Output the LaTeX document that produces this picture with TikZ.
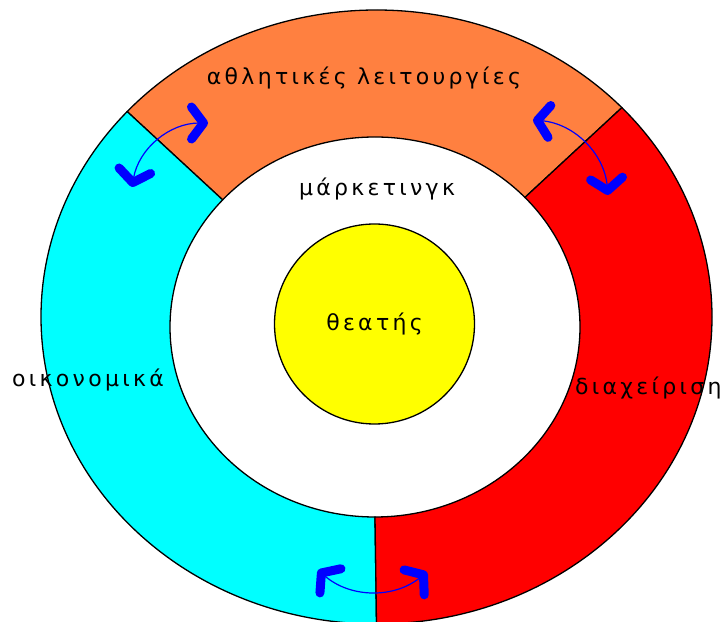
\documentclass[tikz,border=0pt]{standalone}
\usepackage{fontspec}
\newfontfamily\greekfont[LetterSpace=15]{DejaVu Sans}
\usetikzlibrary{arrows.meta,calc}
\definecolor{sportorange}{RGB}{255,128,64}
\definecolor{financecyan}{RGB}{0,255,255}
\definecolor{managered}{RGB}{255,0,0}
\definecolor{fanyellow}{RGB}{255,255,0}
\definecolor{linkblue}{RGB}{0,0,255}

\begin{document}
\begin{tikzpicture}[
    x=1pt, y=1pt,
    font=\greekfont\fontsize{22}{26}\selectfont,
    >={Straight Barb[length=12pt, width=32pt, line width=9pt, round]},
    sector/.style={draw=black, line width=1.3pt},
    word/.style={inner sep=0pt, anchor=base},
    link/.style={<->, linkblue, line width=1.2pt, bend left=40},
  ]
    \useasboundingbox (0,0) rectangle (724,622);
    \clip (0,0) rectangle (724,622);
    \coordinate (outer) at (376.5,305);
    \coordinate (inner) at (375,295);

    % ring sectors
    \filldraw[sector, fill=sportorange]
      ($(outer)+(43:335.5 and 307)$) arc[start angle=43, end angle=138, x radius=335.5, y radius=307]
      -- ($(inner)+(138:205 and 190)$) arc[start angle=138, end angle=43, x radius=205, y radius=190] -- cycle;
    \filldraw[sector, fill=financecyan]
      ($(outer)+(138:335.5 and 307)$) arc[start angle=138, end angle=270, x radius=335.5, y radius=307]
      -- ($(inner)+(270:205 and 190)$) arc[start angle=270, end angle=138, x radius=205, y radius=190] -- cycle;
    \filldraw[sector, fill=managered]
      ($(outer)+(-90:335.5 and 307)$) arc[start angle=-90, end angle=43, x radius=335.5, y radius=307]
      -- ($(inner)+(43:205 and 190)$) arc[start angle=43, end angle=-90, x radius=205, y radius=190] -- cycle;

    \node[draw, line width=1.3pt, circle, fill=fanyellow, minimum size=200pt, inner sep=0pt] (fans) at (374.5,298) {θεατής};

    \node[word] (sports) at (364,537) {αθλητικές λειτουργίες};
    \node[word] (marketing) at (377,426) {μάρκετινγκ};
    \node[word, anchor=base west] (finance) at (12,235) {οικονομικά};
    \node[word, anchor=base west] (management) at (575,227) {διαχείριση};

    % links between the sectors
    \coordinate (finTop) at (132,435);
    \coordinate (spLeft) at (208,499);
    \coordinate (spRight) at (533,502);
    \coordinate (manTop) at (608,427);
    \coordinate (manBot) at (427,50);
    \coordinate (finBot) at (318,52);
    \draw[link] (finTop) to (spLeft);
    \draw[link] (spRight) to (manTop);
    \draw[link] (manBot) to (finBot);
\end{tikzpicture}
\end{document}
